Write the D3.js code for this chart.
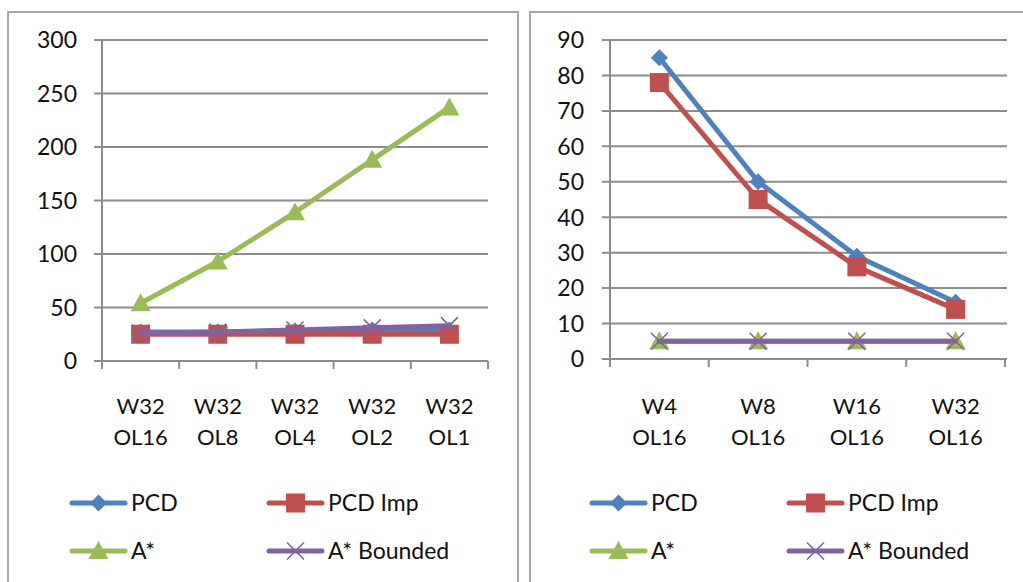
<!DOCTYPE html>
<html>
<head>
<meta charset="utf-8">
<script src="https://cdn.jsdelivr.net/npm/d3@7"></script>
<style>
  html, body { margin: 0; padding: 0; background: #fff; }
  svg { display: block; }
  text { font-family: Lato, "Open Sans", sans-serif; fill: #111; }
</style>
</head>
<body>
<svg id="chart" width="1023" height="582"></svg>
<script>
// Series names and colours
const seriesNames = ["PCD", "PCD Imp", "A*", "A* Bounded"];
const seriesColors = ["#4F81BD", "#C0504D", "#9BBB59", "#8064A2"];
const seriesSymbols = ["diamond", "square", "triangle", "cross"];

// Left panel: varying overlap at width 32
const leftCategories = [["W32", "OL16"], ["W32", "OL8"], ["W32", "OL4"], ["W32", "OL2"], ["W32", "OL1"]];
const leftPCD = [27, 27, 28, 29, 29];
const leftPCDImp = [25, 25, 25, 25, 25];
const leftAStar = [54, 93, 139, 188, 237];
const leftAStarBounded = [26, 27, 29, 31, 33];
const leftTicks = [0, 50, 100, 150, 200, 250, 300];

// Right panel: varying width at overlap 16
const rightCategories = [["W4", "OL16"], ["W8", "OL16"], ["W16", "OL16"], ["W32", "OL16"]];
const rightPCD = [85, 50, 29, 16];
const rightPCDImp = [78, 45, 26, 14];
const rightAStar = [5, 5, 5, 5];
const rightAStarBounded = [5, 5, 5, 5];
const rightTicks = [0, 10, 20, 30, 40, 50, 60, 70, 80, 90];

const svg = d3.select("#chart");
const GRID = "#8C8C8C";
const FONT = 23;
const CAT_FONT = 22;

function marker(g, type, color) {
  if (type === "diamond") {
    g.append("path").attr("d", "M0,-8.5L8.5,0L0,8.5L-8.5,0Z").attr("fill", color);
  } else if (type === "square") {
    g.append("rect").attr("x", -9.5).attr("y", -9.5).attr("width", 19).attr("height", 19).attr("fill", color);
  } else if (type === "triangle") {
    g.append("path").attr("d", "M0,-10L10,8L-10,8Z").attr("fill", color);
  } else {
    g.append("path").attr("d", "M-8.5,-8.5L8.5,8.5M-8.5,8.5L8.5,-8.5")
      .attr("stroke", color).attr("stroke-width", 1.6).attr("fill", "none");
  }
}

function panel(cfg) {
  const g = svg.append("g");
  // frame
  g.append("rect").attr("x", cfg.frameX).attr("y", 12)
    .attr("width", cfg.frameW).attr("height", 640)
    .attr("fill", "#fff").attr("stroke", "#A6A6A6").attr("stroke-width", 2);

  const x = d3.scaleBand().domain(d3.range(cfg.categories.length))
    .range([cfg.x0, cfg.x1]).padding(0);
  const y = d3.scaleLinear().domain([0, d3.max(cfg.ticks)]).range([cfg.yBottom, cfg.yTop]);

  // horizontal gridlines with tick stubs
  g.append("g").selectAll("line").data(cfg.ticks).join("line")
    .attr("x1", cfg.x0 - 8).attr("x2", cfg.gridEnd)
    .attr("y1", d => y(d)).attr("y2", d => y(d))
    .attr("stroke", GRID).attr("stroke-width", 2);

  // y axis line
  g.append("line").attr("x1", cfg.x0).attr("x2", cfg.x0)
    .attr("y1", cfg.yTop).attr("y2", cfg.yBottom + 8)
    .attr("stroke", GRID).attr("stroke-width", 2);

  // x axis tick marks at category boundaries
  const bounds = d3.range(cfg.categories.length + 1).map(i => cfg.x0 + i * x.bandwidth());
  g.append("g").selectAll("line").data(bounds).join("line")
    .attr("x1", d => d).attr("x2", d => d)
    .attr("y1", cfg.yBottom).attr("y2", cfg.yBottom + 8)
    .attr("stroke", GRID).attr("stroke-width", 2);

  // y tick labels
  g.append("g").selectAll("text").data(cfg.ticks).join("text")
    .attr("x", cfg.labelRight).attr("y", d => y(d))
    .attr("dy", "0.36em").attr("text-anchor", "end")
    .attr("font-size", FONT).text(d => d);

  // category labels, two lines each
  const cx = i => x(i) + x.bandwidth() / 2;
  const cat = g.append("g").selectAll("text").data(cfg.categories).join("text")
    .attr("text-anchor", "middle").attr("font-size", CAT_FONT);
  cat.append("tspan").attr("x", (d, i) => cx(i)).attr("y", 414).text(d => d[0]);
  cat.append("tspan").attr("x", (d, i) => cx(i)).attr("y", 445).text(d => d[1]);

  // series lines and markers
  const line = d3.line().x((d, i) => cx(i)).y(d => y(d));
  cfg.series.forEach((vals, s) => {
    g.append("path").datum(vals).attr("d", line)
      .attr("fill", "none").attr("stroke", seriesColors[s])
      .attr("stroke-width", 5).attr("stroke-linejoin", "round").attr("stroke-linecap", "round");
    vals.forEach((v, i) => {
      const m = g.append("g").attr("transform", `translate(${cx(i)},${y(v)})`);
      marker(m, seriesSymbols[s], seriesColors[s]);
    });
  });

  // legend, 2 x 2
  seriesNames.forEach((name, s) => {
    const lx = cfg.legendX[s % 2];
    const ly = s < 2 ? 503 : 551;
    const lg = g.append("g");
    lg.append("line").attr("x1", lx).attr("x2", lx + 53).attr("y1", ly).attr("y2", ly)
      .attr("stroke", seriesColors[s]).attr("stroke-width", 5).attr("stroke-linecap", "round");
    const m = lg.append("g").attr("transform", `translate(${lx + 26.5},${ly})`);
    marker(m, seriesSymbols[s], seriesColors[s]);
    lg.append("text").attr("x", lx + 59).attr("y", ly).attr("dy", "0.36em")
      .attr("font-size", FONT).text(name);
  });
}

panel({
  frameX: 8, frameW: 510,
  x0: 102, x1: 488, gridEnd: 488, yTop: 40, yBottom: 361, labelRight: 77,
  categories: leftCategories, ticks: leftTicks,
  series: [leftPCD, leftPCDImp, leftAStar, leftAStarBounded],
  legendX: [72, 269]
});

panel({
  frameX: 530, frameW: 560,
  x0: 610, x1: 1005, gridEnd: 1007, yTop: 40, yBottom: 359, labelRight: 584,
  categories: rightCategories, ticks: rightTicks,
  series: [rightPCD, rightPCDImp, rightAStar, rightAStarBounded],
  legendX: [592, 789]
});
</script>
</body>
</html>
